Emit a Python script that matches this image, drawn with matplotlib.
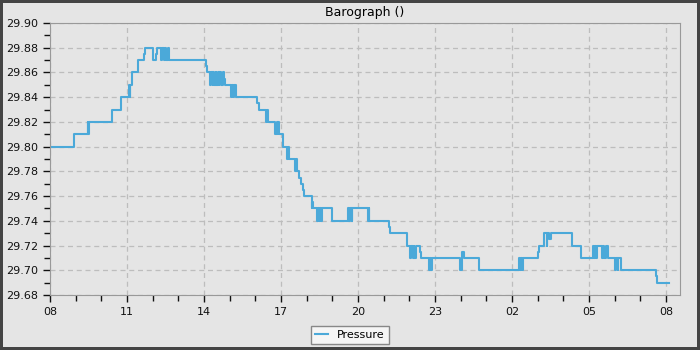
import numpy as np
import pandas as pd
import matplotlib
matplotlib.use('Agg')
import matplotlib.pyplot as plt
import matplotlib.dates as mdates

# Minuten nach Start (08:00) und Luftdruck in inHg
minutes = [0, 56, 88, 89.5, 92, 145, 166, 184, 186, 188, 191, 206, 220, 223, 240, 248, 251,
           260, 263, 266, 269, 271, 276, 279, 364, 366, 374, 377, 380, 382, 384, 387, 389,
           392, 394, 396, 399, 404, 407, 409, 424, 426, 429, 431, 434, 485, 489, 505, 507,
           509, 527, 530, 532, 534, 536, 545, 554, 556, 559, 573, 575, 578, 583, 587, 591,
           594, 612, 613, 616, 625, 627, 630, 632, 634, 636, 660, 697, 700, 702, 705, 707,
           743, 745, 747, 793, 796, 834, 842, 845, 848, 850, 852, 855, 865, 867, 886, 889,
           891, 892, 959, 964, 968, 1004, 1097, 1100, 1102, 1104, 1107, 1141, 1144, 1155,
           1161, 1163, 1167, 1172, 1220, 1241, 1270, 1272, 1275, 1277, 1279, 1291, 1293,
           1295, 1300, 1305, 1321, 1323, 1327, 1329, 1334, 1416, 1419, 1448]
pressure = [29.80, 29.81, 29.82, 29.81, 29.82, 29.83, 29.84, 29.85, 29.84, 29.85, 29.86, 29.87,
            29.875, 29.88, 29.87, 29.875, 29.88, 29.87, 29.88, 29.87, 29.88, 29.87, 29.88,
            29.87, 29.865, 29.86, 29.85, 29.86, 29.85, 29.86, 29.85, 29.86, 29.85, 29.86,
            29.85, 29.86, 29.85, 29.86, 29.855, 29.85, 29.84, 29.85, 29.84, 29.85, 29.84,
            29.835, 29.83, 29.82, 29.83, 29.82, 29.81, 29.82, 29.81, 29.82, 29.81, 29.80,
            29.79, 29.80, 29.79, 29.78, 29.79, 29.78, 29.775, 29.77, 29.765, 29.76, 29.75,
            29.755, 29.75, 29.74, 29.75, 29.74, 29.75, 29.74, 29.75, 29.74, 29.75, 29.74,
            29.75, 29.74, 29.75, 29.74, 29.75, 29.74, 29.735, 29.73, 29.72, 29.71, 29.72,
            29.71, 29.72, 29.71, 29.72, 29.715, 29.71, 29.70, 29.71, 29.70, 29.71, 29.70,
            29.715, 29.71, 29.70, 29.71, 29.70, 29.71, 29.70, 29.71, 29.715, 29.72, 29.73,
            29.72, 29.73, 29.725, 29.73, 29.72, 29.71, 29.72, 29.71, 29.72, 29.71, 29.72,
            29.71, 29.72, 29.71, 29.72, 29.71, 29.70, 29.71, 29.70, 29.71, 29.70, 29.695,
            29.69, 29.69]

start = pd.Timestamp('2024-01-01 08:00')
t = start + pd.to_timedelta(minutes, unit='m')

bg = '#e5e5e5'
fig = plt.figure(figsize=(7, 3.5), dpi=100, facecolor=bg, edgecolor='#444444', linewidth=3)
ax = fig.add_axes([50/700, 55/350, 630/700, 272/350])
ax.set_facecolor(bg)

ax.step(t, pressure, where='post', color='#4ba9d9', lw=1.5, label='Pressure')

ax.set_xlim(start, start + pd.Timedelta(minutes=1473))
ax.set_ylim(29.68, 29.90)
ax.set_yticks(np.arange(29.68, 29.901, 0.02))
ax.set_yticks(np.arange(29.69, 29.90, 0.02), minor=True)
ax.yaxis.set_major_formatter(matplotlib.ticker.FormatStrFormatter('%.2f'))
ax.xaxis.set_major_locator(mdates.HourLocator(byhour=range(2, 24, 3)))
ax.xaxis.set_minor_locator(mdates.HourLocator())
ax.xaxis.set_major_formatter(mdates.DateFormatter('%H'))

ax.grid(True, which='major', color='#bdbdbd', ls=(0, (4, 3)), lw=0.9)
for s in ax.spines.values():
    s.set_color('#999999')
ax.tick_params(which='both', direction='out', colors='#111111', labelsize=8, width=1)
ax.tick_params(which='major', length=5)
ax.tick_params(which='minor', length=4)

ax.set_title('Barograph ()', fontsize=9, pad=5)

leg = fig.legend(loc='lower center', bbox_to_anchor=(0.5, 0.0), fontsize=8, fancybox=False,
                 frameon=True, borderpad=0.4, handlelength=1.2)
leg.get_frame().set_facecolor('#f5f5f5')
leg.get_frame().set_edgecolor('#888888')
leg.get_frame().set_alpha(1)

fig.savefig('out.png', dpi=100, facecolor=bg, edgecolor='#444444')
